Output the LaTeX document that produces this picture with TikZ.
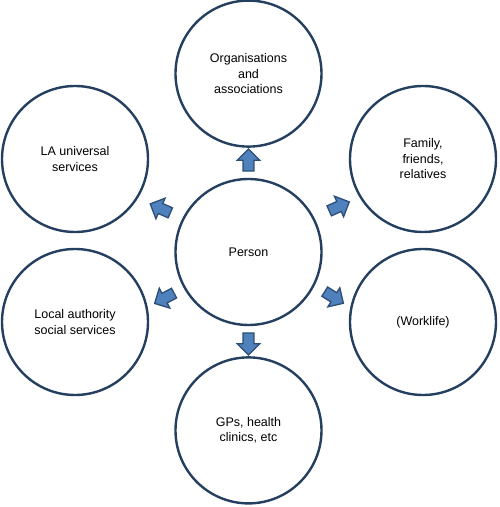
\documentclass[tikz,border=0pt]{standalone}
\usepackage{fontspec}
\setmainfont{Liberation Sans}
\usepackage{xcolor}
\definecolor{colRing}{HTML}{243F60}
\definecolor{colArrowFill}{HTML}{4F81BD}
\definecolor{colArrowLine}{HTML}{2C4D75}
\usetikzlibrary{positioning, calc, shapes.arrows}
\tikzset{
    ring/.style={
        circle, draw=colRing, fill=white,
        line width=2.4pt,
        minimum size=146pt, inner sep=0pt,
        align=center,
        font=\fontsize{12.5}{15.5}\selectfont
    },
    blockarrow/.style={
        single arrow, draw=colArrowLine, fill=colArrowFill,
        line width=1.3pt,
        minimum height=22pt,
        inner xsep=0pt, inner ysep=4.8pt,
        single arrow head extend=5.8pt,
        single arrow head indent=0pt
    },
}

\begin{document}
\begin{tikzpicture}[x=1pt, y=1pt]
    \useasboundingbox (0,0) rectangle (500,507);
    % centre and the six circles round it
    \node[ring] (person) at (248.5,255) {Person};
    \node[ring, above=30pt of person] (org) {Organisations\\and\\associations};
    \node[ring, below=30pt of person] (gps) {GPs, health\\clinics, etc};
    \node[ring] (lau) at ($(person)+(-173.5,93)$) {LA universal\\services};
    \node[ring] (fam) at ($(person)+(174.5,93)$) {Family,\\friends,\\relatives};
    \node[ring] (las) at ($(person)+(-173.5,-70)$) {Local authority\\social services};
    \node[ring] (work) at ($(person)+(174.5,-70)$) {(Worklife)};
    % block arrows out of the centre
    \node[blockarrow, rotate=90] (toOrg) at ($(person)!0.5!(org)$) {};
    \node[blockarrow, rotate=-90] (toGps) at ($(person)!0.5!(gps)$) {};
    \node[blockarrow, rotate=156] (toLau) at ($(person)!0.5!(lau)+(1,-4)$) {};
    \node[blockarrow, rotate=24] (toFam) at ($(person)!0.5!(fam)+(1,-2)$) {};
    \node[blockarrow, rotate=208] (toLas) at ($(person)!0.5!(las)+(5,-10)$) {};
    \node[blockarrow, rotate=-32] (toWork) at ($(person)!0.5!(work)+(-4,-9)$) {};
\end{tikzpicture}
\end{document}
